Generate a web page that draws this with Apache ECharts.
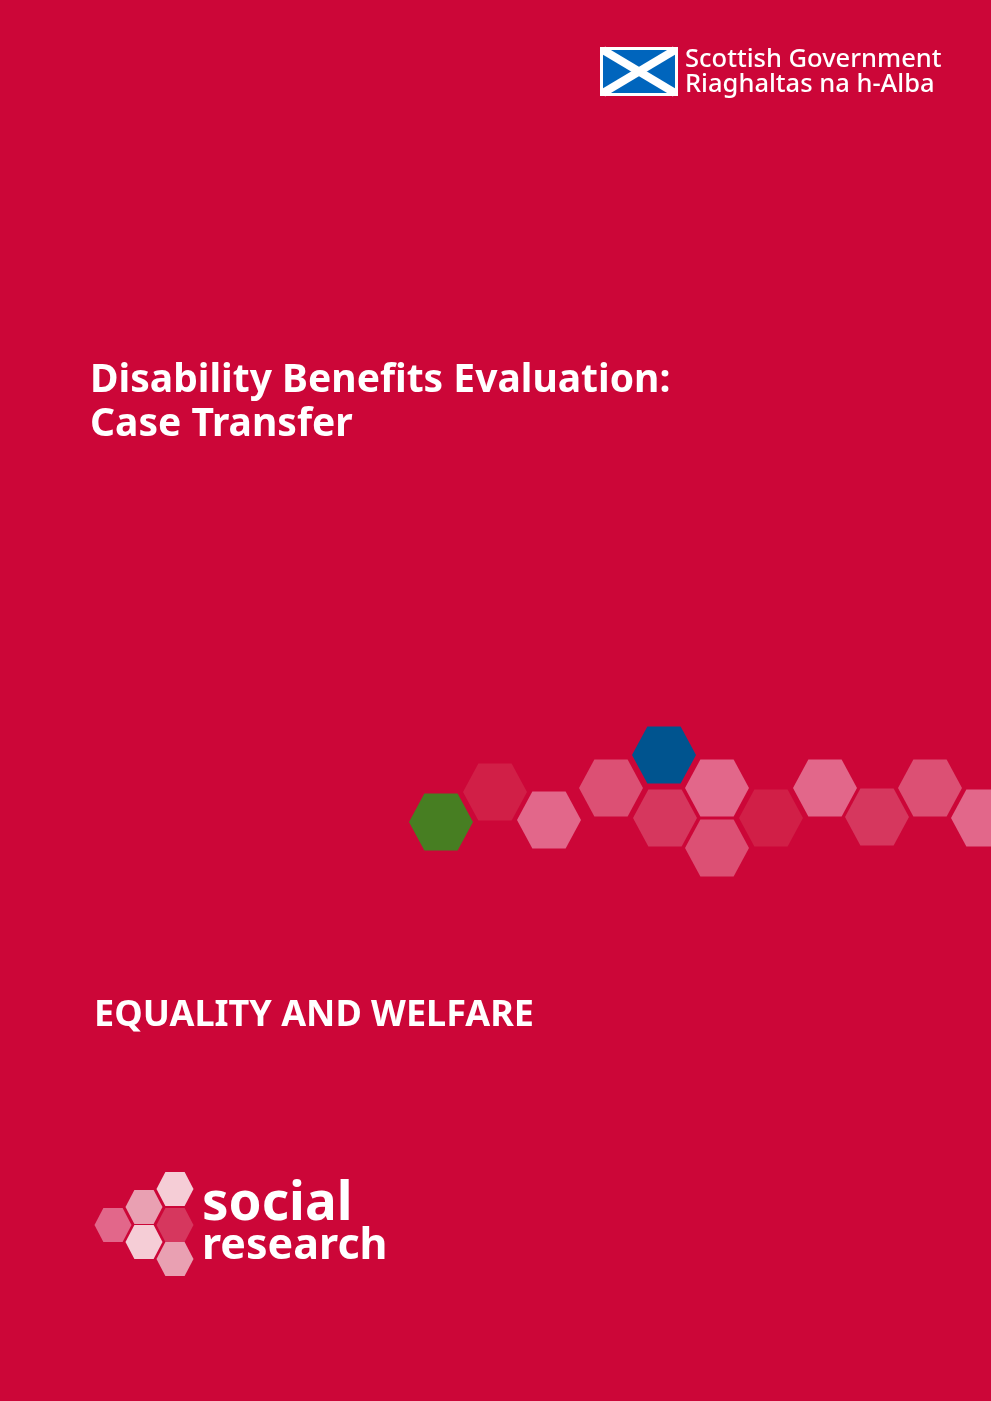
<!DOCTYPE html>
<html>
<head>
<meta charset="utf-8">
<script src="https://cdn.jsdelivr.net/npm/echarts@6/dist/echarts.min.js"></script>
<style>html,body{margin:0;padding:0;background:#cc0638}#main{width:991px;height:1401px}</style>
</head>
<body>
<div id="main"></div>
<script>
// hexagon band, centres in page pixels
var bandX = [441, 495, 549, 611, 664, 665, 717, 717, 771, 825, 877, 930, 983];
var bandY = [822, 792, 820, 788, 755, 818, 788, 848, 818, 788, 817, 788, 818];
var bandColor = ['#477e22', '#d11f47', '#e2678a', '#dc5074', '#00548f', '#d6375e', '#e2678a',
  '#dc5074', '#d11f47', '#e2678a', '#d6375e', '#dc5074', '#e2678a'];
// social research logo hexagons
var logoX = [113, 144, 175, 175, 144, 175];
var logoY = [1225, 1207, 1189, 1225, 1242, 1259];
var logoColor = ['#e2678a', '#e9a0b2', '#f5cdd6', '#d6375e', '#f5cdd6', '#e9a0b2'];

var hex = 'path://M24,0 L76,0 L100,50 L76,100 L24,100 L0,50 Z';
var font = '"Noto Sans", "Open Sans", sans-serif';

function pts(xs, ys, cs) {
  return xs.map(function (x, i) {
    return { value: [x, ys[i]], itemStyle: { color: cs[i], opacity: 1 } };
  });
}

var myChart = echarts.init(document.getElementById('main'));
var option = {
  backgroundColor: '#cc0638',
  grid: { left: 0, right: 0, top: 0, bottom: 0 },
  xAxis: { type: 'value', min: 0, max: 991, show: false },
  yAxis: { type: 'value', min: 0, max: 1401, inverse: true, show: false },
  series: [
    { type: 'scatter', symbol: hex, symbolSize: [64, 57], data: pts(bandX, bandY, bandColor), silent: true },
    { type: 'scatter', symbol: hex, symbolSize: [37, 34], data: pts(logoX, logoY, logoColor), silent: true }
  ],
  graphic: [
    { type: 'rect', shape: { x: 600, y: 47, width: 78, height: 49 }, style: { fill: '#fff' } },
    { type: 'rect', shape: { x: 603, y: 50, width: 72, height: 43 }, style: { fill: '#0065bd' } },
    { type: 'line', shape: { x1: 603, y1: 50, x2: 675, y2: 93 }, style: { stroke: '#fff', lineWidth: 8 } },
    { type: 'line', shape: { x1: 675, y1: 50, x2: 603, y2: 93 }, style: { stroke: '#fff', lineWidth: 8 } },
    { type: 'rect', shape: { x: 596, y: 40, width: 4, height: 60 }, style: { fill: '#cc0638' } },
    { type: 'rect', shape: { x: 678, y: 40, width: 4, height: 60 }, style: { fill: '#cc0638' } },
    { type: 'text', left: 685, top: 47, style: { text: 'Scottish Government', fill: '#fff', font: '500 25.5px ' + font } },
    { type: 'text', left: 685, top: 72, style: { text: 'Riaghaltas na h-Alba', fill: '#fff', font: '500 25.5px ' + font } },
    { type: 'text', left: 90, top: 361, style: { text: 'Disability Benefits Evaluation:', fill: '#fff', font: 'bold 39px ' + font } },
    { type: 'text', left: 90, top: 405, style: { text: 'Case Transfer', fill: '#fff', font: 'bold 39px ' + font } },
    { type: 'text', left: 94, top: 998, style: { text: 'EQUALITY AND WELFARE', fill: '#fff', font: 'bold 36px ' + font } },
    { type: 'text', left: 202, top: 1178, style: { text: 'social', fill: '#fff', font: 'bold 53px ' + font } },
    { type: 'text', left: 202, top: 1225, style: { text: 'research', fill: '#fff', font: 'bold 43px ' + font } }
  ]
};
myChart.setOption(option);
</script>
</body>
</html>
